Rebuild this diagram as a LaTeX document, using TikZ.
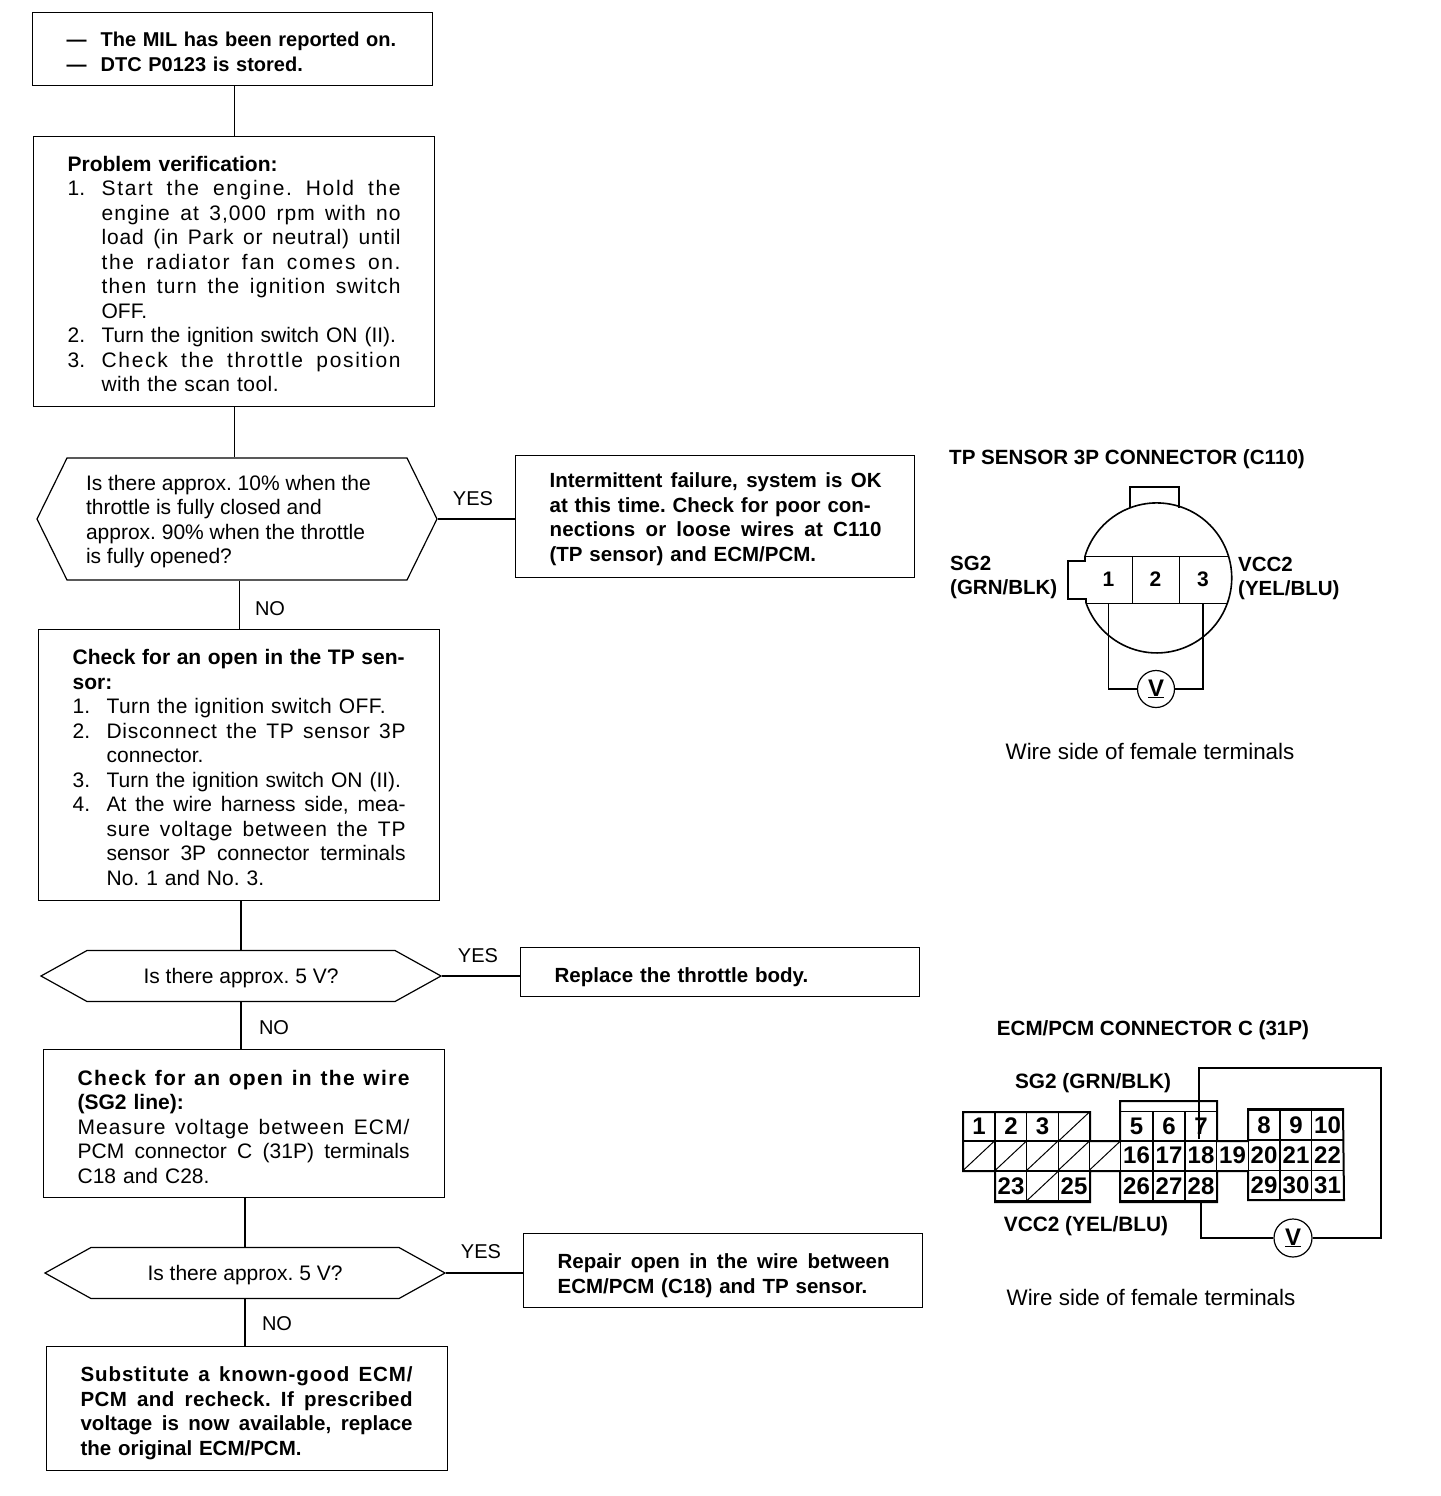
\documentclass[tikz,border=0pt]{standalone}
\usepackage{fontspec}
\setmainfont{Liberation Sans}
\usetikzlibrary{shapes.symbols}
\frenchspacing
\newcommand{\jl}[2][0]{\leavevmode\hbox to 299pt{\addfontfeature{LetterSpace=#1}\spaceskip=.28em plus 1fil minus .1em\xspaceskip=\spaceskip #2}}
\newcommand{\fl}[2][0]{\leavevmode\hbox to 332pt{\addfontfeature{LetterSpace=#1}\spaceskip=.28em plus 1fil minus .1em\xspaceskip=\spaceskip #2}}
\newcommand{\ls}[2]{{\addfontfeature{LetterSpace=#1}#2}}
\newcommand{\itm}[2]{\makebox[34pt][l]{#1}#2}
\newcommand{\cnt}[1]{\hspace*{34pt}#1}
\newcommand{\lift}[1]{\rule{0pt}{#1pt}}
\tikzset{
  body/.style={font=\fontsize{21}{24.5}\selectfont,align=left},
  bodybold/.style={font=\bfseries\fontsize{20.5}{24.5}\selectfont,align=left},
  stepbox/.style={draw,line width=1.2pt,anchor=north west,inner xsep=34pt,inner ysep=0pt,text width=333pt,body,execute at begin node={\lift{20}}},
  yesbox/.style={stepbox,bodybold,text width=331pt},
  decision/.style={draw,line width=1.2pt,shape=signal,signal to=west and east,inner sep=0pt,body},
  flow/.style={line width=1.2pt},
  branch/.style={font=\fontsize{20}{24}\selectfont},
  heading/.style={font=\bfseries\fontsize{20.6}{23}\selectfont,inner sep=0pt},
  wirelabel/.style={font=\bfseries\fontsize{20.5}{24}\selectfont,inner sep=0pt,align=left},
  pinlabel/.style={font=\bfseries\fontsize{20.8}{24}\selectfont,inner sep=0pt},
  note/.style={inner sep=0pt,font=\fontsize{22.4}{24}\selectfont},
  cell/.style={draw,line width=1pt,inner sep=0pt,minimum width=31.5pt,minimum height=29.5pt,font=\bfseries\fontsize{24}{24}\selectfont},
  tpcell/.style={draw,line width=1pt,inner sep=0pt,minimum height=47pt,font=\bfseries\fontsize{21}{24}\selectfont},
  meter/.style={draw,circle,line width=1.2pt,inner sep=0pt,minimum size=37pt,fill=white,font=\bfseries\fontsize{24}{24}\selectfont},
  wire/.style={line width=1.6pt}
}
\begin{document}
\begin{tikzpicture}[x=1pt,y=-1pt]
\path[use as bounding box,fill=white] (0,0) rectangle (1440,1496);
\node[stepbox,font=\bfseries\fontsize{20}{24.5}\selectfont,text width=332pt,minimum height=73pt] (mil) at (32,12) {\makebox[34pt][l]{---}The MIL has been reported on.\\\makebox[34pt][l]{---}DTC P0123 is stored.};
\node[stepbox,minimum height=270pt] (verify) at (33,136) {\textbf{Problem verification:}\\
\itm{1.}{\jl[8]{Start the engine. Hold the}}\\
\cnt{\jl[5]{engine at 3,000 rpm with no}}\\
\cnt{\jl[4]{load (in Park or neutral) until}}\\
\cnt{\jl[8]{the radiator fan comes on.}}\\
\cnt{\jl[6]{then turn the ignition switch}}\\
\cnt{OFF.}\\
\itm{2.}{Turn the ignition switch ON (II).}\\
\itm{3.}{\jl[8]{Check the throttle position}}\\
\cnt{\ls{2.2}{with the scan tool.}}};
\node[decision,minimum width=400pt,minimum height=122pt,signal pointer angle=127.6] (percent) at (237,519) {\begin{minipage}{302pt}\lift{20}Is there approx. 10\% when the\\throttle is fully closed and\\approx. 90\% when the throttle\\is fully opened?\end{minipage}};
\node[yesbox,minimum height=122pt] (okbox) at (515,455) {\fl{Intermittent failure, system is OK}\\at this time. Check for poor con-\\\fl[1]{nections or loose wires at C110}\\(TP sensor) and ECM/PCM.};
\node[stepbox,minimum height=271pt] (opensensor) at (38,629) {\textbf{\fl{Check for an open in the TP sen-}}\\\textbf{sor:}\\
\itm{1.}{\ls{2.2}{Turn the ignition switch OFF.}}\\
\itm{2.}{\jl[3.5]{Disconnect the TP sensor 3P}}\\
\cnt{connector.}\\
\itm{3.}{Turn the ignition switch ON (II).}\\
\itm{4.}{\jl{At the wire harness side, mea-}}\\
\cnt{\jl[4]{sure voltage between the TP}}\\
\cnt{\jl{sensor 3P connector terminals}}\\
\cnt{No. 1 and No. 3.}};
\node[decision,minimum width=400pt,minimum height=51pt,signal pointer angle=58] (fivea) at (241,976) {\lift{20}Is there approx. 5 V?};
\node[yesbox,minimum height=49pt] (replace) at (520,947) {\lift{25}Replace the throttle body.};
\node[stepbox,minimum height=148pt] (openwire) at (43,1049) {\lift{21}\textbf{\fl[6.5]{Check for an open in the wire}}\\\textbf{(SG2 line):}\\
\fl[5]{Measure voltage between ECM/}\\
\fl{PCM connector C (31P) terminals}\\
C18 and C28.};
\node[decision,minimum width=400pt,minimum height=51pt,signal pointer angle=58] (fiveb) at (245,1273) {\lift{20}Is there approx. 5 V?};
\node[yesbox,minimum height=74pt] (repair) at (523,1233) {\lift{25}\fl{Repair open in the wire between}\\ECM/PCM (C18) and TP sensor.};
\node[stepbox,bodybold,minimum height=124pt] (substitute) at (46,1346) {\lift{24}\fl[4.5]{Substitute a known-good ECM/}\\\fl[2]{PCM and recheck. If prescribed}\\\fl{voltage is now available, replace}\\the original ECM/PCM.};
\draw[flow] (verify.north |- mil.south) -- (verify.north);
\draw[flow] (verify.south) -- (verify.south |- percent.north);
\draw[flow] (opensensor.north |- percent.south) -- (opensensor.north);
\draw[flow] (fivea.north |- opensensor.south) -- (fivea.north);
\draw[flow] (fivea.south) -- (fivea.south |- openwire.north);
\draw[flow] (fiveb.north |- openwire.south) -- (fiveb.north);
\draw[flow] (fiveb.south) -- (fiveb.south |- substitute.north);
\draw[flow] (percent.east) -- (percent.east -| okbox.west);
\draw[flow] (fivea.east) -- (fivea.east -| replace.west);
\draw[flow] (fiveb.east) -- (fiveb.east -| repair.west);
\node[branch] (yesa) at (473,499) {YES};
\node[branch] (noa) at (270,609) {NO};
\node[branch] (yesb) at (478,956) {YES};
\node[branch] (nob) at (274,1028) {NO};
\node[branch] (yesc) at (481,1252) {YES};
\node[branch] (noc) at (277,1324) {NO};
\node[heading,anchor=west] (tptitle) at (949,459) {TP SENSOR 3P CONNECTOR (C110)};
\draw[wire] (1085,556) arc[start angle=163,end angle=-160.5,radius=75pt];
\draw[wire] (1130,508) -- (1130,487) -- (1179,487) -- (1179,508);
\draw[wire] (1085,556) -- (1085,561) -- (1068,561) -- (1068,599) -- (1086,599) -- (1086,603);
\node[tpcell,minimum width=47pt,draw=none] (tpone) at (1108.5,579.5) {1};
\node[tpcell,minimum width=47pt] (tptwo) at (1155.5,579.5) {2};
\node[tpcell,minimum width=47pt,draw=none] (tpthree) at (1203,579.5) {3};
\draw[line width=1pt] (1085,556) -- (1228,556) (1086,603) -- (1228,603);
\node[meter] (tpmeter) at (1156,689) {\underline{V}};
\draw[wire] (tpone.south) -- (tpone.south |- tpmeter.west) -- (tpmeter.west);
\draw[wire] (tpthree.south) -- (tpthree.south |- tpmeter.east) -- (tpmeter.east);
\node[wirelabel,anchor=west] (tpsgtwo) at (950,577) {SG2\\(GRN/BLK)};
\node[wirelabel,anchor=west] (tpvcc) at (1238,578) {VCC2\\(YEL/BLU)};
\node[note] (tpnote) at (1150,751) {Wire side of female terminals};
\node[heading] (ecmtitle) at (1153,1030) {ECM/PCM CONNECTOR C (31P)};
\node[pinlabel] (ecmsg) at (1093,1083) {SG2 (GRN/BLK)};
\node[pinlabel] (ecmvcc) at (1086,1226) {VCC2 (YEL/BLU)};
\foreach \x/\y/\n/\t in {
979/1126.5/a1/1,1011/1126.5/a2/2,1042.5/1126.5/a3/3,1074/1126.5/a4/{},
1136.5/1126.5/a5/5,1169/1126.5/a6/6,1201/1126.5/a7/7,1264/1125/a8/8,1296/1125/a9/9,1327.5/1125/a10/10,
979/1155.5/b11/{},1011/1155.5/b12/{},1042.5/1155.5/b13/{},1074/1155.5/b14/{},1105/1155.5/b15/{},
1136.5/1155.5/b16/16,1169/1155.5/b17/17,1201/1155.5/b18/18,1232.5/1155.5/b19/19,1264/1155.5/b20/20,1296/1155.5/b21/21,1327.5/1155.5/b22/22,
1011/1186/c23/23,1042.5/1186/c24/{},1074/1186/c25/25,
1136.5/1186/c26/26,1169/1186/c27/27,1201/1186/c28/28,1264/1185/c29/29,1296/1185/c30/30,1327.5/1185/c31/31}
{
\node[cell] (\n) at (\x,\y) {\t};
}
\foreach \n in {a4,b11,b12,b13,b14,b15,c24}
{
\draw[line width=1pt] (\n.south west) -- (\n.north east);
}
\draw[line width=2pt] (963,1112) -- (1090,1112) -- (1090,1141) -- (1120,1141) -- (1120,1101) -- (1217,1101) -- (1217,1141) -- (1248,1141) -- (1248,1109) -- (1343,1109) -- (1344,1200) -- (1248,1200) -- (1248,1171) -- (1217,1171) -- (1217,1202) -- (1120,1202) -- (1120,1171) -- (1090,1171) -- (1090,1202) -- (995,1202) -- (995,1171) -- (963,1171) -- cycle;
\node[meter,minimum size=38pt] (ecmmeter) at (1293,1238) {\underline{V}};
\coordinate (topleft) at (1199,1068);
\coordinate (topright) at (1381,1068);
\draw[wire] ([xshift=-2pt,yshift=3pt]a7.south) -- (topleft) -- (topright) -- (topright |- ecmmeter.east) -- (ecmmeter.east);
\draw[wire] (c28.south) -- (c28.south |- ecmmeter.west) -- (ecmmeter.west);
\node[note] (ecmnote) at (1151,1297) {Wire side of female terminals};
\end{tikzpicture}
\end{document}
